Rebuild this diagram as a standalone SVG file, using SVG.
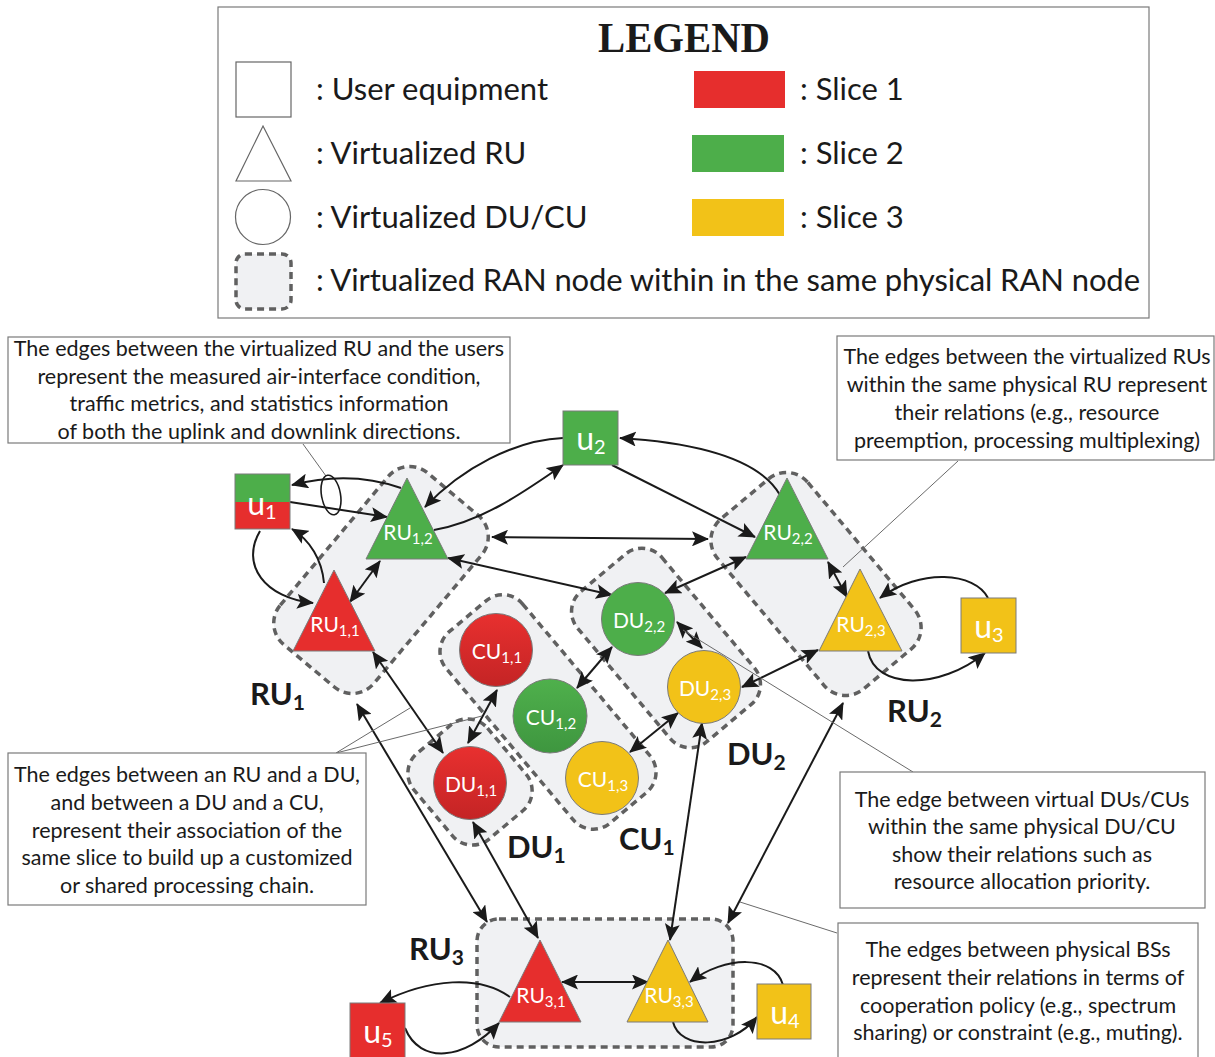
<svg xmlns="http://www.w3.org/2000/svg" width="1215" height="1057" viewBox="0 0 1215 1057">
<style>
text{font-family:Lato,"Liberation Sans",sans-serif;}
.lg{font-size:31px;fill:#1a1a1a;}
.co{font-size:21.5px;fill:#1a1a1a;text-anchor:middle;}
.box{fill:#fff;stroke:#7a7a7a;stroke-width:1.2;}
.lead{fill:none;stroke:#6a6a6a;stroke-width:1;}
.reg{fill:#f0f1f3;stroke:#606060;stroke-width:3.5;stroke-dasharray:7 5;}
.nd{stroke:#7a7a7a;stroke-width:1;}
.nl{font-size:21px;fill:#fff;text-anchor:middle;}
.ul{font-size:32px;fill:#fff;text-anchor:middle;}
.big{font-size:31px;font-weight:bold;fill:#1a1a1a;}
.e{fill:none;stroke:#1a1a1a;stroke-width:2;}
.r{fill:#e62e2d;}.g{fill:#4dae4a;}.y{fill:#f2c218;}
</style>
<defs>
<marker id="ah" viewBox="0 0 17 15" refX="16" refY="7.5" markerWidth="17" markerHeight="15" markerUnits="userSpaceOnUse" orient="auto-start-reverse"><path d="M0,0 L17,7.5 L0,15 L3.5,7.5 z" fill="#1a1a1a"/></marker>
<linearGradient id="gr" x1="0" y1="0" x2="0" y2="1"><stop offset="0" stop-color="#e8302f"/><stop offset="1" stop-color="#c42425"/></linearGradient>
<linearGradient id="gg" x1="0" y1="0" x2="0" y2="1"><stop offset="0" stop-color="#4fb04c"/><stop offset="1" stop-color="#3e963f"/></linearGradient>
</defs>

<g id="legend">
<rect x="218" y="7" width="931" height="311" fill="#fff" stroke="#7a7a7a" stroke-width="1.2"/>
<text x="684" y="52" text-anchor="middle" font-weight="bold" font-size="43" textLength="172" lengthAdjust="spacingAndGlyphs" fill="#1a1a1a" style="font-family:'Liberation Serif',serif">LEGEND</text>
<rect x="236" y="62" width="55" height="55" fill="#fff" stroke="#666" stroke-width="1.2"/>
<path d="M263,126 L291,181 L236,181 Z" fill="#fff" stroke="#666" stroke-width="1.2"/>
<circle cx="263" cy="217" r="27.5" fill="#fff" stroke="#666" stroke-width="1.2"/>
<rect x="236" y="254" width="55" height="55" rx="9" class="reg" stroke-width="3"/>
<text class="lg" x="316" y="100">: User equipment</text>
<text class="lg" x="316" y="164">: Virtualized RU</text>
<text class="lg" x="316" y="228">: Virtualized DU/CU</text>
<text class="lg" x="316" y="291" textLength="824">: Virtualized RAN node within in the same physical RAN node</text>
<rect x="694" y="71" width="91" height="37" class="r"/>
<rect x="692" y="135" width="92" height="37" class="g"/>
<rect x="692" y="199" width="92" height="37" class="y"/>
<text class="lg" x="800" y="100">: Slice 1</text>
<text class="lg" x="800" y="164">: Slice 2</text>
<text class="lg" x="800" y="228">: Slice 3</text>
</g>

<g id="regions">
<rect id="reg-RU1" class="reg" x="-112" y="-61" width="224" height="122" rx="28" transform="translate(381,580) rotate(-50)"/>
<rect id="reg-RU2" class="reg" x="-111" y="-59" width="222" height="118" rx="28" transform="translate(816,584) rotate(50)"/>
<rect id="reg-DU2" class="reg" x="-98" y="-55" width="196" height="110" rx="26" transform="translate(666,648) rotate(50)"/>
<rect id="reg-CU1" class="reg" x="-125" y="-50" width="250" height="100" rx="26" transform="translate(548,712) rotate(50)"/>
<rect id="reg-DU1" class="reg" x="-56" y="-48" width="112" height="96" rx="26" transform="translate(470,782) rotate(50)"/>
<rect id="reg-RU3" class="reg" x="477" y="919" width="256" height="128" rx="22"/>
</g>

<g id="region-labels">
<text class="big" x="250" y="705">RU<tspan font-size="21" dy="5">1</tspan></text>
<text class="big" x="887" y="722">RU<tspan font-size="21" dy="5">2</tspan></text>
<text class="big" x="727" y="765">DU<tspan font-size="21" dy="5">2</tspan></text>
<text class="big" x="507" y="858">DU<tspan font-size="21" dy="5">1</tspan></text>
<text class="big" x="619" y="850">CU<tspan font-size="21" dy="5">1</tspan></text>
<text class="big" x="409" y="960">RU<tspan font-size="21" dy="5">3</tspan></text>
</g>

<g id="connectors">
<path class="e" d="M401,488 Q350,470 292,485" marker-end="url(#ah)"/>
<path class="e" d="M290,502 L387,517" marker-end="url(#ah)"/>
<path class="e" d="M260,531 C240,565 265,598 313,603" marker-end="url(#ah)"/>
<path class="e" d="M324,583 C322,560 310,540 292,529" marker-end="url(#ah)"/>
<path class="e" d="M380,561 L350,602" marker-start="url(#ah)" marker-end="url(#ah)"/>
<path class="e" d="M563,438 C515,440 462,468 425,507" marker-end="url(#ah)"/>
<path class="e" d="M434,530 C480,522 520,495 563,465" marker-end="url(#ah)"/>
<path class="e" d="M780,495 C760,460 700,443 620,438" marker-end="url(#ah)"/>
<path class="e" d="M612,465 L755,537" marker-end="url(#ah)"/>
<path class="e" d="M492,537 L708,539" marker-start="url(#ah)" marker-end="url(#ah)"/>
<path class="e" d="M448,558 L612,595" marker-start="url(#ah)" marker-end="url(#ah)"/>
<path class="e" d="M665,593 L746,557" marker-start="url(#ah)" marker-end="url(#ah)"/>
<path class="e" d="M828,562 L847,597" marker-start="url(#ah)" marker-end="url(#ah)"/>
<path class="e" d="M988,598 C975,572 920,568 880,598" marker-end="url(#ah)"/>
<path class="e" d="M868,651 C875,690 940,690 985,653" marker-end="url(#ah)"/>
<path class="e" d="M612,647 L577,688" marker-start="url(#ah)" marker-end="url(#ah)"/>
<path class="e" d="M677,622 L702,648" marker-start="url(#ah)" marker-end="url(#ah)"/>
<path class="e" d="M742,687 L818,650" marker-start="url(#ah)" marker-end="url(#ah)"/>
<path class="e" d="M678,713 L630,752" marker-start="url(#ah)" marker-end="url(#ah)"/>
<path class="e" d="M497,690 L468,743" marker-start="url(#ah)" marker-end="url(#ah)"/>
<path class="e" d="M373,652 L443,753" marker-start="url(#ah)" marker-end="url(#ah)"/>
<path class="e" d="M357,704 L487,922" marker-start="url(#ah)" marker-end="url(#ah)"/>
<path class="e" d="M473,822 L538,938" marker-start="url(#ah)" marker-end="url(#ah)"/>
<path class="e" d="M702,723 L670,940" marker-start="url(#ah)" marker-end="url(#ah)"/>
<path class="e" d="M843,703 L728,923" marker-start="url(#ah)" marker-end="url(#ah)"/>
<path class="e" d="M562,982 L648,982" marker-start="url(#ah)" marker-end="url(#ah)"/>
<path class="e" d="M510,997 C480,975 430,978 380,1003" marker-end="url(#ah)"/>
<path class="e" d="M405,1028 C420,1065 465,1060 499,1023" marker-end="url(#ah)"/>
<path class="e" d="M783,985 C775,955 725,955 690,982" marker-end="url(#ah)"/>
<path class="e" d="M673,1022 C680,1050 730,1050 757,1017" marker-end="url(#ah)"/>
</g>

<g id="u1"><rect x="235" y="474" width="55" height="28" class="g"/><rect x="235" y="502" width="55" height="27" class="r"/><rect x="235" y="474" width="55" height="55" fill="none" class="nd"/><text class="ul" x="262" y="515">u<tspan font-size="20" dy="4">1</tspan></text></g>
<g id="u2"><rect x="563" y="411" width="55" height="54" class="g nd"/><text class="ul" x="591" y="450">u<tspan font-size="20" dy="4">2</tspan></text></g>
<g id="u3"><rect x="961" y="598" width="55" height="55" class="y nd"/><text class="ul" x="989" y="638">u<tspan font-size="20" dy="4">3</tspan></text></g>
<g id="u4"><rect x="757" y="984" width="54" height="55" class="y nd"/><text class="ul" x="785" y="1024">u<tspan font-size="20" dy="4">4</tspan></text></g>
<g id="u5"><rect x="350" y="1003" width="55" height="56" class="r nd"/><text class="ul" x="378" y="1043">u<tspan font-size="20" dy="4">5</tspan></text></g>

<g id="RU12"><path d="M407,478 L448,559 L366,559 Z" class="g nd"/><text class="nl" x="408" y="540">RU<tspan font-size="15" dy="4">1,2</tspan></text></g>
<g id="RU11"><path d="M334,570 L375,651 L293,651 Z" class="r nd"/><text class="nl" x="335" y="632">RU<tspan font-size="15" dy="4">1,1</tspan></text></g>
<g id="RU22"><path d="M787,478 L828,559 L746,559 Z" class="g nd"/><text class="nl" x="788" y="540">RU<tspan font-size="15" dy="4">2,2</tspan></text></g>
<g id="RU23"><path d="M860,569 L902,651 L819,651 Z" class="y nd"/><text class="nl" x="861" y="632">RU<tspan font-size="15" dy="4">2,3</tspan></text></g>
<g id="RU31"><path d="M540,940 L581,1022 L499,1022 Z" class="r nd"/><text class="nl" x="541" y="1003">RU<tspan font-size="15" dy="4">3,1</tspan></text></g>
<g id="RU33"><path d="M668,940 L708,1022 L627,1022 Z" class="y nd"/><text class="nl" x="669" y="1003">RU<tspan font-size="15" dy="4">3,3</tspan></text></g>

<g id="CU11"><circle cx="496" cy="650" r="36.5" fill="url(#gr)" class="nd"/><text class="nl" x="497" y="659">CU<tspan font-size="15" dy="4">1,1</tspan></text></g>
<g id="CU12"><circle cx="550" cy="716" r="37" fill="url(#gg)" class="nd"/><text class="nl" x="551" y="725">CU<tspan font-size="15" dy="4">1,2</tspan></text></g>
<g id="CU13"><circle cx="602" cy="778" r="36.5" class="y nd"/><text class="nl" x="603" y="787">CU<tspan font-size="15" dy="4">1,3</tspan></text></g>
<g id="DU11"><circle cx="470" cy="783" r="36.5" fill="url(#gr)" class="nd"/><text class="nl" x="471" y="792">DU<tspan font-size="15" dy="4">1,1</tspan></text></g>
<g id="DU22"><circle cx="638" cy="619" r="36.5" class="g nd"/><text class="nl" x="639" y="628">DU<tspan font-size="15" dy="4">2,2</tspan></text></g>
<g id="DU23"><circle cx="704" cy="687" r="36.5" class="y nd"/><text class="nl" x="705" y="696">DU<tspan font-size="15" dy="4">2,3</tspan></text></g>

<g id="callouts">
<path class="lead" d="M303,444 L326,476"/>
<ellipse cx="331" cy="495" rx="9.5" ry="20" fill="none" stroke="#1a1a1a" stroke-width="1.6" transform="rotate(-10 331 495)"/>
<path class="lead" d="M958,461 L843,567"/>
<path class="lead" d="M336,753 L410,708 M336,753 L482,716"/>
<path class="lead" d="M913,772 L683,630"/>
<path class="lead" d="M837,933 L740,902"/>
<g id="note1"><rect class="box" x="8" y="337" width="502" height="106"/>
<text class="co" x="259" y="356">The edges between the virtualized RU and the users</text>
<text class="co" x="259" y="384">represent the measured air-interface condition,</text>
<text class="co" x="259" y="411">traffic metrics, and statistics information</text>
<text class="co" x="259" y="439">of both the uplink and downlink directions.</text></g>
<g id="note2"><rect class="box" x="837" y="336" width="377" height="124"/>
<text class="co" x="1027" y="364">The edges between the virtualized RUs</text>
<text class="co" x="1027" y="392">within the same physical RU represent</text>
<text class="co" x="1027" y="420">their relations (e.g., resource</text>
<text class="co" x="1027" y="448">preemption, processing multiplexing)</text></g>
<g id="note3"><rect class="box" x="8" y="753" width="358" height="152"/>
<text class="co" x="187" y="782">The edges between an RU and a DU,</text>
<text class="co" x="187" y="810">and between a DU and a CU,</text>
<text class="co" x="187" y="838">represent their association of the</text>
<text class="co" x="187" y="865">same slice to build up a customized</text>
<text class="co" x="187" y="893">or shared processing chain.</text></g>
<g id="note4"><rect class="box" x="840" y="772" width="365" height="136"/>
<text class="co" x="1022" y="807">The edge between virtual DUs/CUs</text>
<text class="co" x="1022" y="834">within the same physical DU/CU</text>
<text class="co" x="1022" y="862">show their relations such as</text>
<text class="co" x="1022" y="889">resource allocation priority.</text></g>
<g id="note5"><rect class="box" x="838" y="923" width="360" height="140"/>
<text class="co" x="1018" y="957">The edges between physical BSs</text>
<text class="co" x="1018" y="985">represent their relations in terms of</text>
<text class="co" x="1018" y="1013">cooperation policy (e.g., spectrum</text>
<text class="co" x="1018" y="1040">sharing) or constraint (e.g., muting).</text></g>
</g>
</svg>
